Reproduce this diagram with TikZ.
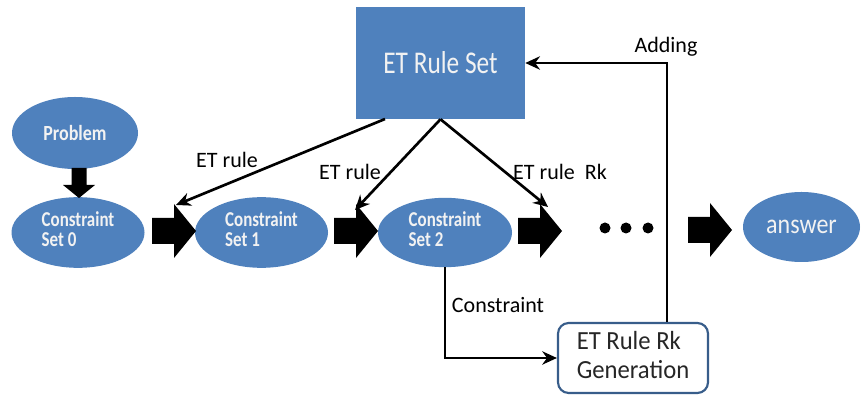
\documentclass[tikz,border=0pt]{standalone}
\usepackage{fontspec}
\setmainfont{Carlito}
\usetikzlibrary{shapes.geometric,arrows.meta}
\definecolor{officeblue}{HTML}{4F81BD}
\definecolor{boxedge}{HTML}{385D8A}
\definecolor{nodetext}{HTML}{F2F2F2}
\definecolor{darktext}{HTML}{262626}
\newcommand{\vstretch}[2]{\scalebox{1}[#1]{#2}}
\newcommand{\twolines}[2]{\begin{tabular}{@{}l@{}}#1\\#2\end{tabular}}
\tikzset{
  blue ellipse/.style={ellipse, fill=officeblue, draw=none, inner sep=0pt, text=nodetext,
    font=\bfseries\fontsize{12.7}{12}\selectfont, minimum width=99.75pt, minimum height=53pt},
  conn/.style={line width=2pt, draw=black, -{Stealth[length=11pt,width=10pt]}},
  lbl/.style={font=\fontsize{16.5}{19}\selectfont, text=black, inner sep=0pt},
  pics/blockarrow/.style={code={
    \fill[black] (0,-13) -- (22,-13) -- (22,-27) -- (44,0) -- (22,27) -- (22,13) -- (0,13) -- cycle;
  }},
  pics/downarrow/.style={code={
    \fill[black] (-7.5,0) -- (7.5,0) -- (7.5,17) -- (16,17) -- (0,30) -- (-16,17) -- (-7.5,17) -- cycle;
  }}
}
\begin{document}
\begin{tikzpicture}[x=0.75pt,y=-0.75pt]
\useasboundingbox (0,0) rectangle (867,398);
\fill[white] (0,0) rectangle (867,398);

% Nodes
\node[rectangle, fill=officeblue, minimum width=126.75pt, minimum height=84pt, inner sep=0pt,
      text=nodetext, font=\fontsize{19}{22}\selectfont] (ruleset) at (440.5,63) {\vstretch{1.25}{ET Rule Set}};
\node[blue ellipse, minimum width=94.5pt, minimum height=54pt, font=\bfseries\fontsize{13.5}{16}\selectfont] (problem) at (75,133) {\vstretch{1.2}{Problem}};
\node[blue ellipse] (cs0) at (78,232.5) {\vstretch{1.25}{\twolines{Constraint}{Set 0}}};
\node[blue ellipse] (cs1) at (261.5,232.5) {\vstretch{1.25}{\twolines{Constraint}{Set 1}}};
\node[blue ellipse, minimum width=100.5pt, minimum height=52pt] (cs2) at (445,232.5) {\vstretch{1.25}{\twolines{Constraint}{Set 2}}};
\node[ellipse, fill=officeblue, inner sep=0pt, minimum width=87.75pt, minimum height=52.5pt,
      text=nodetext, font=\fontsize{18}{21}\selectfont] (answer) at (801.5,227) {\vstretch{1.15}{answer}};
\node[rectangle, rounded corners=8pt, draw=boxedge, line width=1.6pt, fill=white,
      minimum width=112.5pt, minimum height=52.5pt, text=darktext,
      font=\fontsize{18.5}{20.25}\selectfont] (gen) at (633,358) {\vstretch{1.06}{\twolines{ET Rule Rk}{Generation}}};

% Block arrows
\pic at (152,231) {blockarrow};
\pic at (334,231) {blockarrow};
\pic at (518,231) {blockarrow};
\pic at (688,230) {blockarrow};
\pic at (79,168) {downarrow};

% Dots
\fill[black] (605,228) circle (5.5);
\fill[black] (626,228) circle (5.5);
\fill[black] (648,228) circle (5.5);

% Connector endpoints
\coordinate (s1) at (385,119);
\coordinate (t1) at (176,205);
\coordinate (t2) at (355,210);
\coordinate (t3) at (548,207);

\draw[conn] (s1) -- (t1);
\draw[conn] (ruleset.south) -- (t2);
\draw[conn] (ruleset.south) -- (t3);
\draw[conn] (cs2.south) |- (gen.west);
\draw[conn] ([xshift=25.5pt]gen.north) |- (ruleset.east);

% Labels
\node[lbl] (l1) at (227,160) {ET rule};
\node[lbl] (l2) at (350,172) {ET rule};
\node[lbl] (l3) at (560,172) {ET rule\ \ Rk};
\node[lbl] (l4) at (666,47) {Adding};
\node[lbl] (l5) at (498,305) {Constraint};
\end{tikzpicture}
\end{document}
